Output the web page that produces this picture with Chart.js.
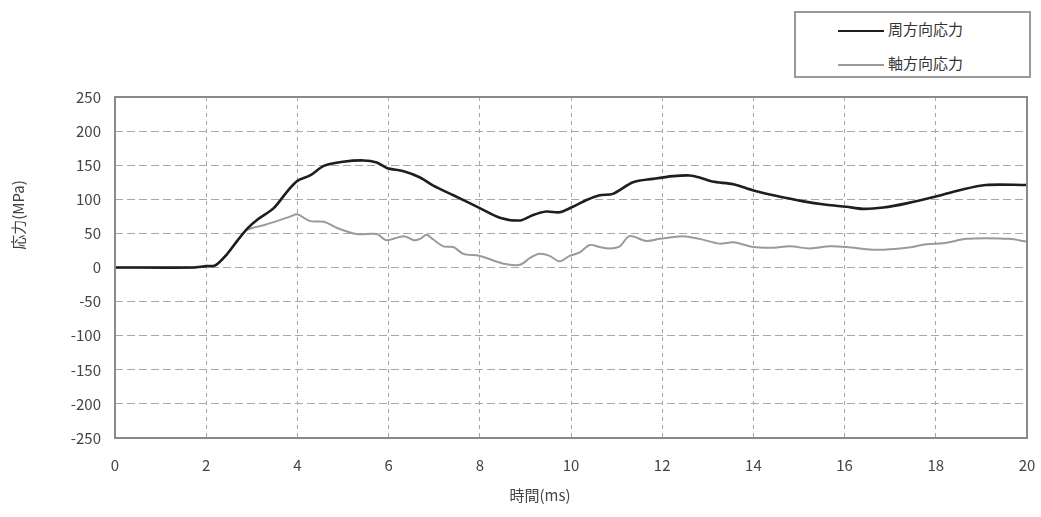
<!DOCTYPE html>
<html>
<head>
<meta charset="utf-8">
<script src="https://cdn.jsdelivr.net/npm/chart.js@4"></script>
<style>
    body { margin: 0; background: #fff; }
    #wrap { position: relative; width: 1041px; height: 517px; }
    #legend {
        position: absolute; left: 794px; top: 11px; width: 237px; height: 67px;
        border: 2px solid #999; box-sizing: border-box; background: #fff;
        font-family: "Noto Sans CJK JP", sans-serif; font-size: 15px; color: #333;
    }
    .item { position: absolute; left: 42px; height: 20px; line-height: 20px; }
    .item span.sw { display: inline-block; width: 46px; vertical-align: middle; margin-right: 4px; }
</style>
</head>
<body>
<div id="wrap">
    <canvas id="myChart" width="1041" height="517"></canvas>
    <div id="legend"></div>
</div>
<script>
// 時間 (ms)
const hoopTime = [0, 1.7, 2.0, 2.2, 2.45, 2.68, 2.9, 3.12, 3.48, 3.77, 4.0, 4.28, 4.58, 5.0, 5.45, 5.74, 5.96, 6.33, 6.69, 6.98,
    7.42, 8.0, 8.44, 8.88, 9.17, 9.46, 9.75, 10.04, 10.34, 10.63, 10.92, 11.36, 11.8, 12.24, 12.6, 12.82, 13.1, 13.56, 14.0, 14.44,
    15.1, 15.6, 16.04, 16.4, 16.85, 17.36, 18.0, 18.5, 19.1, 20];
// 周方向応力 (MPa)
const hoopStress = [0, 0, 2, 3, 19, 39, 57, 70, 87, 111, 127, 135, 149, 155, 157, 154, 146, 141, 132, 120,
    106, 87, 73, 69, 77, 82, 81, 89, 99, 106, 108, 125, 130, 134, 135, 132, 126, 122, 113, 106,
    97, 92, 89, 86, 88, 94, 104, 113, 121, 121];

const axialTime = [0, 1.7, 2.0, 2.2, 2.45, 2.68, 2.9, 3.26, 3.55, 3.85, 4.0, 4.28, 4.58, 4.87, 5.3, 5.74, 5.96, 6.33, 6.55, 6.69,
    6.83, 6.98, 7.2, 7.42, 7.64, 8.0, 8.5, 8.88, 9.1, 9.31, 9.53, 9.75, 9.97, 10.19, 10.41, 10.63, 10.85, 11.07, 11.28, 11.65,
    11.95, 12.45, 12.82, 13.26, 13.56, 14.0, 14.44, 14.8, 15.24, 15.68, 16.04, 16.7, 17.36, 17.8, 18.2, 18.67, 19.1, 19.6, 20];
// 軸方向応力 (MPa)
const axialStress = [0, 0, 2, 3, 19, 39, 55, 62, 68, 75, 78, 68, 67, 58, 49, 49, 40, 46, 40, 42,
    48, 41, 31, 30, 20, 17, 6, 4, 14, 20, 17, 9, 17, 22, 33, 30, 28, 31, 46, 39,
    42, 46, 42, 35, 37, 30, 29, 31, 28, 31, 30, 26, 29, 34, 36, 42, 43, 42, 38];

const seriesLabels = ['周方向応力', '軸方向応力'];
const xTitle = '時間(ms)';
const yTitle = '応力(MPa)';

const toPoints = (xs, ys) => xs.map((x, i) => ({ x: x, y: ys[i] }));

const frameAndTitles = {
    id: 'frameAndTitles',
    afterDraw(chart) {
        const c = chart.ctx;
        const a = chart.chartArea;
        c.save();
        c.strokeStyle = '#8a8a8a';
        c.lineWidth = 2;
        c.strokeRect(a.left, a.top, a.right - a.left, a.bottom - a.top);
        c.fillStyle = '#444';
        c.font = '15px "Noto Sans CJK JP"';
        c.textAlign = 'center';
        c.textBaseline = 'middle';
        c.fillText(xTitle, 540, 495);
        c.translate(18, 215);
        c.rotate(-Math.PI / 2);
        c.fillText(yTitle, 0, 0);
        c.restore();
    }
};

const ctx = document.getElementById('myChart').getContext('2d');
const myChart = new Chart(ctx, {
    type: 'line',
    data: {
        datasets: [
            {
                label: seriesLabels[0],
                data: toPoints(hoopTime, hoopStress),
                borderColor: '#1e1e1e',
                borderWidth: 2.6,
                pointRadius: 0,
                tension: 0.3
            },
            {
                label: seriesLabels[1],
                data: toPoints(axialTime, axialStress),
                borderColor: '#9a9a9a',
                borderWidth: 2,
                pointRadius: 0,
                tension: 0.3
            }
        ]
    },
    options: {
        responsive: false,
        animation: false,
        layout: { padding: { top: 97, right: 14, left: 0, bottom: 0 } },
        plugins: {
            legend: { display: false },
            tooltip: { enabled: false }
        },
        scales: {
            x: {
                type: 'linear',
                min: 0,
                max: 20,
                afterFit: (s) => { s.height = 79; s.paddingLeft = 0; s.paddingRight = 0; },
                ticks: {
                    stepSize: 2,
                    padding: 18,
                    color: '#444',
                    font: { family: 'Noto Sans CJK JP', size: 15 }
                },
                grid: { color: '#a8a8a8', lineWidth: 1, tickLength: 0 },
                border: { display: false, dash: [4, 4] }
            },
            y: {
                min: -250,
                max: 250,
                afterFit: (s) => { s.width = 115; s.paddingTop = 0; s.paddingBottom = 0; },
                ticks: {
                    stepSize: 50,
                    padding: 14,
                    color: '#444',
                    font: { family: 'Noto Sans CJK JP', size: 15 }
                },
                grid: { color: '#a8a8a8', lineWidth: 1, tickLength: 0 },
                border: { display: false, dash: [8, 4] }
            }
        }
    },
    plugins: [frameAndTitles]
});

// legend box built from the datasets
const legend = document.getElementById('legend');
myChart.data.datasets.forEach((ds, i) => {
    const item = document.createElement('div');
    item.className = 'item';
    item.style.top = (i === 0 ? 6 : 40) + 'px';
    item.innerHTML = `<span class="sw" style="border-top:${ds.borderWidth}px solid ${ds.borderColor}"></span>${ds.label}`;
    legend.appendChild(item);
});
</script>
</body>
</html>
